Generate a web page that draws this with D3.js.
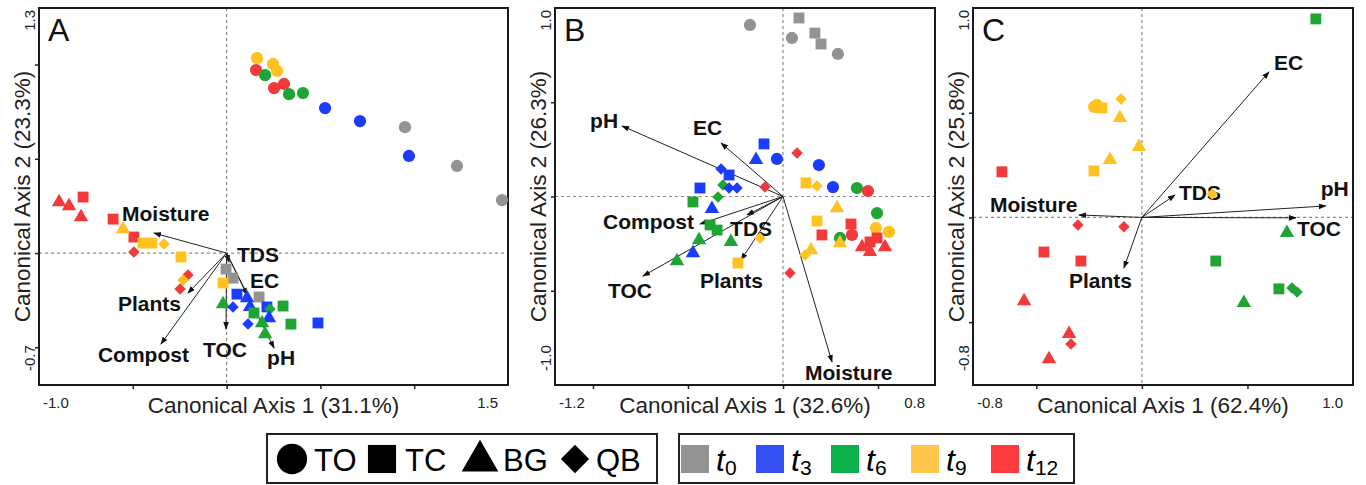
<!DOCTYPE html>
<html>
<head>
<meta charset="utf-8">
<script src="https://cdn.jsdelivr.net/npm/d3@7"></script>
<style>
  body { margin: 0; background: #fff; }
  svg { display: block; font-family: "Liberation Sans", Arial, sans-serif; }
</style>
</head>
<body>
<script>
// ---- Data ----
// Treatments (marker shape) and sampling times (colour)
const groups = ["TO", "TC", "BG", "QB"];
const times = ["t0", "t3", "t6", "t9", "t12"];
const timeColors = ["#939393", "#1a3cff", "#1ea534", "#ffc222", "#f23a3a"];
const legendColors = ["#939393", "#3550f0", "#0db14b", "#ffc64b", "#ff3b3f"];

// Panel A: samples [group, time, axis1, axis2]
const panelA_points = [
  ["TO","t9",0.162,1.034], ["TO","t9",0.247,1.003], ["TO","t9",0.269,0.966],
  ["TO","t12",0.157,0.971], ["TO","t6",0.205,0.944], ["TO","t12",0.306,0.897],
  ["TO","t12",0.253,0.875], ["TO","t6",0.333,0.843], ["TO","t6",0.407,0.849],
  ["TO","t3",0.525,0.769], ["TO","t3",0.711,0.700], ["TO","t0",0.951,0.668],
  ["TO","t3",0.972,0.515], ["TO","t0",1.228,0.462], ["TO","t0",1.468,0.281],
  ["BG","t12",-0.893,0.271], ["BG","t12",-0.840,0.249], ["BG","t12",-0.776,0.191],
  ["TC","t12",-0.765,0.297], ["TC","t12",-0.605,0.180], ["TC","t12",-0.494,0.085],
  ["BG","t9",-0.552,0.127], ["TC","t9",-0.446,0.053], ["TC","t9",-0.398,0.053],
  ["QB","t9",-0.334,0.048], ["QB","t12",-0.494,0.005], ["TC","t9",-0.243,-0.021],
  ["QB","t12",-0.206,-0.117], ["QB","t9",-0.232,-0.143], ["QB","t12",-0.248,-0.191],
  ["TC","t0",-0.003,-0.085], ["TC","t0",0.034,-0.133], ["TC","t0",0.173,-0.233],
  ["TC","t9",-0.019,-0.159], ["TC","t3",0.055,-0.218], ["BG","t3",0.109,-0.239],
  ["BG","t6",-0.019,-0.271], ["QB","t3",0.034,-0.286], ["BG","t3",0.125,-0.286],
  ["TC","t6",0.146,-0.318], ["TC","t3",0.215,-0.286], ["QB","t6",0.231,-0.297],
  ["TC","t6",0.301,-0.281], ["QB","t3",0.114,-0.377], ["BG","t3",0.226,-0.345],
  ["BG","t6",0.189,-0.371], ["BG","t6",0.205,-0.430], ["TC","t6",0.343,-0.377],
  ["TC","t3",0.487,-0.371]
];
const panelA_vars = ["Moisture", "TDS", "EC", "pH", "TOC", "Plants", "Compost"];
const panelA_varX = [-0.387, 0.013, 0.109, 0.253, -0.003, -0.206, -0.350];
const panelA_varY = [0.106, -0.048, -0.223, -0.504, -0.403, -0.212, -0.483];

// Panel B
const panelB_points = [
  ["TO","t0",-0.174,0.910], ["TO","t0",0.047,0.841], ["TO","t0",0.289,0.756],
  ["TC","t0",0.084,0.947], ["TC","t0",0.168,0.867], ["TC","t0",0.200,0.809],
  ["TC","t3",-0.100,0.279], ["BG","t3",-0.142,0.194], ["TO","t3",-0.032,0.199],
  ["QB","t12",0.074,0.231], ["TO","t3",0.189,0.167], ["QB","t12",-0.095,0.050],
  ["TC","t9",0.121,0.072], ["QB","t9",0.179,0.056], ["TO","t3",0.263,0.050],
  ["TO","t6",0.389,0.045], ["TO","t12",0.447,0.029], ["BG","t9",0.284,-0.061],
  ["TO","t6",0.495,-0.088], ["QB","t3",-0.326,0.146], ["TC","t3",-0.284,0.114],
  ["QB","t6",-0.316,0.061], ["QB","t3",-0.284,0.045], ["QB","t3",-0.242,0.045],
  ["TC","t3",-0.437,0.045], ["TC","t6",-0.474,-0.029], ["QB","t6",-0.342,-0.003],
  ["BG","t3",-0.374,-0.066], ["TC","t6",-0.384,-0.151], ["TC","t6",-0.347,-0.178],
  ["BG","t6",-0.442,-0.231], ["BG","t6",-0.274,-0.241], ["QB","t9",-0.121,-0.220],
  ["BG","t3",-0.474,-0.300], ["BG","t6",-0.558,-0.342], ["TC","t9",-0.237,-0.353],
  ["QB","t12",0.037,-0.406], ["TC","t9",0.179,-0.130], ["TC","t12",0.358,-0.146],
  ["TO","t9",0.489,-0.167], ["TO","t9",0.558,-0.188], ["TC","t12",0.205,-0.204],
  ["TO","t6",0.300,-0.220], ["BG","t9",0.300,-0.247], ["TO","t12",0.363,-0.204],
  ["TC","t12",0.495,-0.220], ["TC","t12",0.458,-0.241], ["BG","t12",0.416,-0.268],
  ["BG","t12",0.458,-0.294], ["BG","t12",0.537,-0.268], ["BG","t9",0.147,-0.284],
  ["QB","t9",0.116,-0.310]
];
const panelB_vars = ["pH", "EC", "Compost", "TDS", "TOC", "Plants", "Moisture"];
const panelB_varX = [-0.847, -0.326, -0.437, -0.189, -0.737, -0.221, 0.258];
const panelB_varY = [0.374, 0.284, -0.146, -0.098, -0.422, -0.337, -0.878];

// Panel C
const panelC_points = [
  ["QB","t9",-0.099,0.566], ["TO","t9",-0.226,0.528], ["TO","t9",-0.213,0.537],
  ["TC","t9",-0.189,0.523], ["BG","t9",-0.104,0.475], ["BG","t9",-0.014,0.337],
  ["BG","t9",-0.151,0.275], ["TC","t9",-0.227,0.222], ["TC","t12",-0.663,0.218],
  ["TC","t6",0.824,0.948], ["QB","t12",-0.303,-0.036], ["QB","t12",-0.085,-0.045],
  ["TC","t12",-0.464,-0.165], ["TC","t12",-0.289,-0.208], ["BG","t12",-0.558,-0.399],
  ["BG","t12",-0.345,-0.556], ["QB","t12",-0.336,-0.604], ["BG","t12",-0.440,-0.676],
  ["BG","t6",0.687,-0.074], ["TC","t6",0.350,-0.208], ["TC","t6",0.649,-0.341],
  ["QB","t6",0.711,-0.337], ["QB","t6",0.735,-0.356], ["BG","t6",0.483,-0.408]
];
// a t9 sample sits on top of the "TDS" label
const panelC_onTop = [["QB","t9",0.333,0.112]];
const panelC_vars = ["EC", "TDS", "pH", "TOC", "Moisture", "Plants"];
const panelC_varX = [0.602, 0.157, 0.871, 0.730, -0.298, -0.085];
const panelC_varY = [0.695, 0.107, 0.055, -0.002, 0.012, -0.241];

// Axis end labels
const panelA_xTicks = ["-1.0", "1.5"], panelA_yTicks = ["-0.7", "1.3"];
const panelB_xTicks = ["-1.2", "0.8"], panelB_yTicks = ["-1.0", "1.0"];
const panelC_xTicks = ["-0.8", "1.0"], panelC_yTicks = ["-0.8", "1.0"];

// ---- Layout ----
const W = 1366, H = 485;
const panels = [
  { letter: "A", frame: [39, 8, 508, 385], xTicks: panelA_xTicks, yTicks: panelA_yTicks,
    xTitle: "Canonical Axis 1 (31.1%)", yTitle: "Canonical Axis 2 (23.3%)",
    points: panelA_points, onTop: [], vars: panelA_vars, vx: panelA_varX, vy: panelA_varY,
    // label offsets (px) from arrow tip, text-anchor start
    offsets: [[-32,-12],[8,0],[3,-7],[-7,17],[-23,28],[-70,18],[-63,18]] },
  { letter: "B", frame: [555, 8, 935, 385], xTicks: panelB_xTicks, yTicks: panelB_yTicks,
    xTitle: "Canonical Axis 1 (32.6%)", yTitle: "Canonical Axis 2 (26.3%)",
    points: panelB_points, onTop: [], vars: panelB_vars, vx: panelB_varX, vy: panelB_varY,
    offsets: [[-32,2],[-28,-8],[-97,5],[-17,21],[-35,22],[-41,28],[-27,18]] },
  { letter: "C", frame: [973, 8, 1353, 385], xTicks: panelC_xTicks, yTicks: panelC_yTicks,
    xTitle: "Canonical Axis 1 (62.4%)", yTitle: "Canonical Axis 2 (25.8%)",
    points: panelC_points, onTop: panelC_onTop, vars: panelC_vars, vx: panelC_varX, vy: panelC_varY,
    offsets: [[5,-2],[4,5],[-5,-10],[1,18],[-89,-3],[-55,20]] }
];

// diamonds are squares turned by 45 degrees
const SHAPES = { TO: d3.symbolCircle, TC: d3.symbolSquare, BG: d3.symbolTriangle, QB: d3.symbolSquare };
const ROT = { TO: 0, TC: 0, BG: 0, QB: 45 };
const SIZES = { TO: 118, TC: 118, BG: 90, QB: 66 };
const colorOf = d3.scaleOrdinal().domain(times).range(timeColors);

const svg = d3.select("body").append("svg")
  .attr("width", W).attr("height", H);
svg.append("rect").attr("width", W).attr("height", H).attr("fill", "#fff");

svg.append("defs").append("marker")
  .attr("id", "arrowhead")
  .attr("viewBox", "0 -4 9 8")
  .attr("refX", 8).attr("refY", 0)
  .attr("markerWidth", 8).attr("markerHeight", 7)
  .attr("markerUnits", "userSpaceOnUse")
  .attr("orient", "auto")
  .append("path").attr("d", "M0,-3.2L9,0L0,3.2Z").attr("fill", "#111");

function drawPoints(g, data, x, y) {
  g.selectAll(null).data(data).enter().append("path")
    .attr("transform", d => `translate(${x(d[2])},${y(d[3])}) rotate(${ROT[d[0]]})`)
    .attr("d", d => d3.symbol().type(SHAPES[d[0]]).size(SIZES[d[0]])())
    .attr("fill", d => colorOf(d[1]));
}

panels.forEach(p => {
  const [x0, y0, x1, y1] = p.frame;
  const xd = p.xTicks.map(Number), yd = p.yTicks.map(Number);
  const x = d3.scaleLinear().domain(xd).range([x0, x1]);
  const y = d3.scaleLinear().domain(yd).range([y1, y0]);
  const g = svg.append("g");

  // inner ticks every 0.5
  const inner = (d) => d3.range(Math.ceil(d[0] / 0.5) * 0.5, d[1], 0.5)
    .filter(v => v > d[0] + 1e-6 && v < d[1] - 1e-6);
  g.append("g").attr("transform", `translate(0,${y1})`)
    .call(d3.axisBottom(x).tickValues(inner(xd)).tickSize(4).tickFormat(""))
    .call(a => a.select(".domain").remove())
    .selectAll("line").attr("stroke", "#222").attr("stroke-width", 1.5);
  g.append("g").attr("transform", `translate(${x0},0)`)
    .call(d3.axisLeft(y).tickValues(inner(yd)).tickSize(4).tickFormat(""))
    .call(a => a.select(".domain").remove())
    .selectAll("line").attr("stroke", "#222").attr("stroke-width", 1.5);

  // zero lines
  g.append("line").attr("x1", x(0)).attr("x2", x(0)).attr("y1", y0).attr("y2", y1)
    .attr("stroke", "#8a8a8a").attr("stroke-width", 1.2).attr("stroke-dasharray", "3,3");
  g.append("line").attr("x1", x0).attr("x2", x1).attr("y1", y(0)).attr("y2", y(0))
    .attr("stroke", "#8a8a8a").attr("stroke-width", 1.2).attr("stroke-dasharray", "3,3");

  // frame
  g.append("rect").attr("x", x0).attr("y", y0).attr("width", x1 - x0).attr("height", y1 - y0)
    .attr("fill", "none").attr("stroke", "#1a1a1a").attr("stroke-width", 2);

  // environmental arrows
  g.selectAll(null).data(p.vars).enter().append("line")
    .attr("x1", x(0)).attr("y1", y(0))
    .attr("x2", (d, i) => x(p.vx[i])).attr("y2", (d, i) => y(p.vy[i]))
    .attr("stroke", "#222").attr("stroke-width", 1)
    .attr("marker-end", "url(#arrowhead)");
  g.selectAll(null).data(p.vars).enter().append("text")
    .attr("x", (d, i) => x(p.vx[i]) + p.offsets[i][0])
    .attr("y", (d, i) => y(p.vy[i]) + p.offsets[i][1])
    .attr("font-size", 21).attr("font-weight", "bold").attr("fill", "#111")
    .text(d => d);

  drawPoints(g, p.points, x, y);
  drawPoints(g, p.onTop, x, y);

  // panel letter
  g.append("text").attr("x", x0 + 9).attr("y", y0 + 33)
    .attr("font-size", 32).attr("fill", "#111").text(p.letter);

  // end labels
  g.append("text").attr("x", x0 + 4).attr("y", y1 + 23)
    .attr("font-size", 15).attr("fill", "#222").text(p.xTicks[0]);
  g.append("text").attr("x", x1 - 10).attr("y", y1 + 23).attr("text-anchor", "end")
    .attr("font-size", 15).attr("fill", "#222").text(p.xTicks[1]);
  g.append("text").attr("transform", `translate(${x0 - 4},${y1 - 14}) rotate(-90)`)
    .attr("font-size", 15).attr("fill", "#222").text(p.yTicks[0]);
  g.append("text").attr("transform", `translate(${x0 - 4},${y0 + 2}) rotate(-90)`)
    .attr("text-anchor", "end")
    .attr("font-size", 15).attr("fill", "#222").text(p.yTicks[1]);

  // axis titles
  g.append("text").attr("x", (x0 + x1) / 2).attr("y", y1 + 28).attr("text-anchor", "middle")
    .attr("font-size", 22.5).attr("fill", "#222").text(p.xTitle);
  g.append("text").attr("transform", `translate(${x0 - 9},${(y0 + y1) / 2}) rotate(-90)`)
    .attr("text-anchor", "middle")
    .attr("font-size", 22.5).attr("fill", "#222").text(p.yTitle);
});

// ---- Legends ----
const leg1 = svg.append("g");
leg1.append("rect").attr("x", 267).attr("y", 434).attr("width", 390).attr("height", 49)
  .attr("fill", "none").attr("stroke", "#222").attr("stroke-width", 2);
const legShapeX = [292, 382, 480, 575];
const legTextX = [314, 405, 503, 596];
const legSizes = { TO: 720, TC: 790, BG: 580, QB: 400 };
groups.forEach((gname, i) => {
  leg1.append("path")
    .attr("transform", `translate(${legShapeX[i]},${gname === "BG" ? 461 : 459}) rotate(${ROT[gname]})`)
    .attr("d", d3.symbol().type(SHAPES[gname]).size(legSizes[gname])())
    .attr("fill", "#000");
  leg1.append("text").attr("x", legTextX[i]).attr("y", 471)
    .attr("font-size", 31).attr("fill", "#000").text(gname);
});

const leg2 = svg.append("g");
leg2.append("rect").attr("x", 679).attr("y", 434).attr("width", 395).attr("height", 49)
  .attr("fill", "none").attr("stroke", "#222").attr("stroke-width", 2);
const legSqX = [680, 755, 830, 910, 990];
times.forEach((t, i) => {
  leg2.append("rect").attr("x", legSqX[i] + 1).attr("y", 445).attr("width", 28).attr("height", 28)
    .attr("fill", legendColors[i]);
  const tx = leg2.append("text").attr("x", legSqX[i] + 36).attr("y", 471).attr("fill", "#000");
  tx.append("tspan").attr("font-size", 32).attr("font-style", "italic").text("t");
  tx.append("tspan").attr("font-size", 21).attr("dy", 4).text(t.slice(1));
});
</script>
</body>
</html>
